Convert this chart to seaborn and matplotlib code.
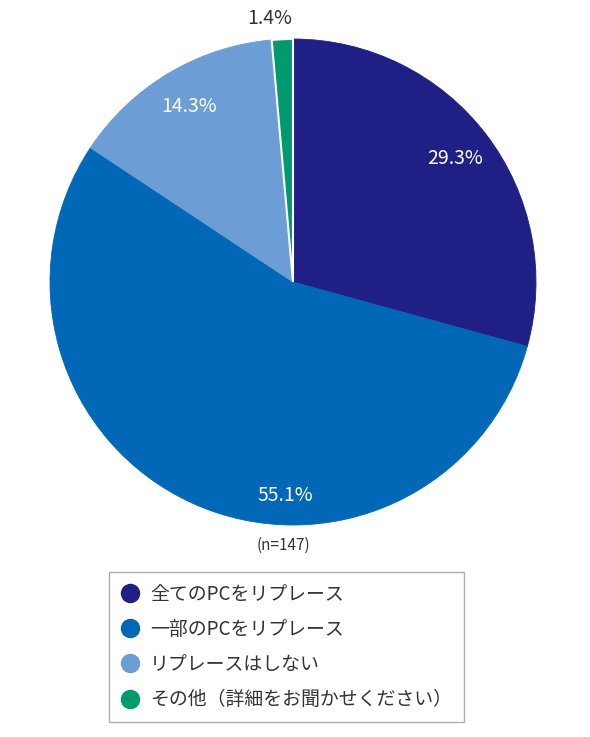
import matplotlib
matplotlib.use("Agg")
import matplotlib.pyplot as plt
import seaborn as sns
from matplotlib.lines import Line2D

sns.set_theme(style="white")
plt.rcParams['font.family'] = ['Noto Sans CJK JP', 'DejaVu Sans']

# data
categories = ["全てのPCをリプレース", "一部のPCをリプレース", "リプレースはしない", "その他（詳細をお聞かせください）"]
shares = [29.3, 55.1, 14.3, 1.4]
colors = ["#1f1f86", "#0068b6", "#6c9dd4", "#009a6e"]
n_label = "(n=147)"

W, H = 590, 737
fig = plt.figure(figsize=(W / 100, H / 100), dpi=100)

cx, cy, r = 293, 282, 243
ax = fig.add_axes([(cx - r) / W, 1 - (cy + r) / H, 2 * r / W, 2 * r / H])

wedges, texts, autotexts = ax.pie(
    shares, colors=colors, startangle=90, counterclock=False,
    autopct="%.1f%%", pctdistance=0.84, radius=1,
    textprops=dict(color="white", fontsize=14),
)
# hide seams between slices, keep the small gap next to the green one
for w, c in zip(wedges, colors):
    w.set_edgecolor(c)
    w.set_linewidth(0.6)
wedges[3].set_edgecolor("white")
wedges[3].set_linewidth(1.5)

# show the survey's own rounded figures
for t, v in zip(autotexts, shares):
    t.set_text(f"{v:.1f}%")

# label placement tweaks as in the original
autotexts[1].set_position((-0.03, -0.88))
autotexts[3].set_position((-0.095, 1.085))
autotexts[3].set_color("#333333")

ax.set_xlim(-1, 1)
ax.set_ylim(-1, 1)
ax.set_aspect("equal")
ax.axis("off")

fig.text(283 / W, 1 - 545 / H, n_label, ha="center", va="center", fontsize=11, color="#333333")

handles = [Line2D([], [], marker="o", linestyle="none", markersize=13,
                  markerfacecolor=c, markeredgecolor=c) for c in colors]
leg = fig.legend(handles, categories, loc="upper left",
                 bbox_to_anchor=(109 / W, 1 - 572 / H),
                 frameon=True, fancybox=False, fontsize=13.6,
                 labelspacing=0.75, handletextpad=0.55, borderpad=0.62,
                 handlelength=1.0, borderaxespad=0)
leg.get_frame().set_edgecolor("#999999")
leg.get_frame().set_linewidth(1.0)
for t in leg.get_texts():
    t.set_color("#333333")

fig.savefig("out.png", dpi=100, facecolor="white")
